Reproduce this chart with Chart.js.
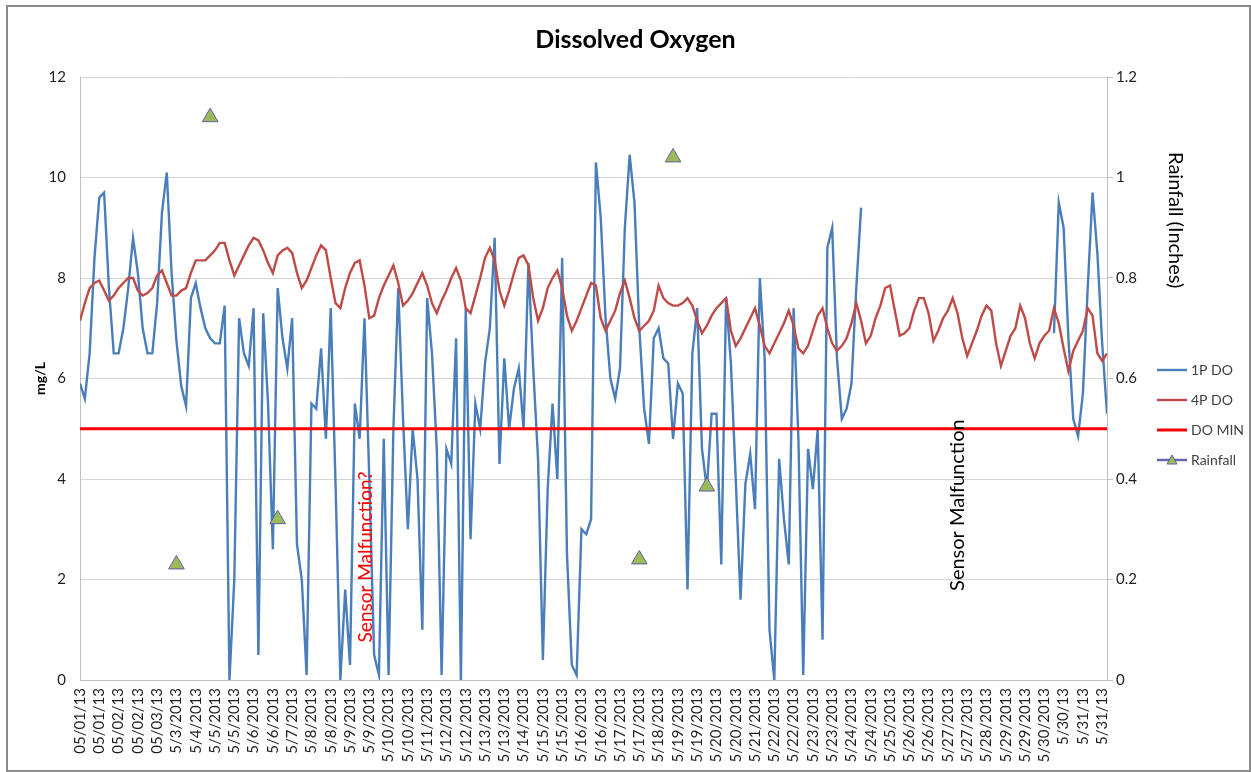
<!DOCTYPE html>
<html><head><meta charset="utf-8">
<script src="https://cdn.jsdelivr.net/npm/chart.js@4/dist/chart.umd.min.js"></script>
<style>html,body{margin:0;padding:0;background:#fff}#wrap{width:1251px;height:772px;position:relative}</style>
</head><body><div id="wrap"><canvas id="c"></canvas></div>
<script>
// ---------------- DATA ----------------
const tickLabels = ['05/01/13','05/01/13','05/02/13','05/02/13','05/03/13','5/3/2013','5/4/2013','5/5/2013','5/5/2013','5/6/2013',
  '5/6/2013','5/7/2013','5/8/2013','5/8/2013','5/9/2013','5/9/2013','5/10/2013','5/10/2013','5/11/2013','5/12/2013',
  '5/12/2013','5/13/2013','5/13/2013','5/14/2013','5/15/2013','5/15/2013','5/16/2013','5/16/2013','5/17/2013','5/17/2013',
  '5/18/2013','5/19/2013','5/19/2013','5/20/2013','5/20/2013','5/21/2013','5/22/2013','5/22/2013','5/23/2013','5/23/2013',
  '5/24/2013','5/24/2013','5/25/2013','5/26/2013','5/26/2013','5/27/2013','5/27/2013','5/28/2013','5/29/2013','5/29/2013',
  '5/30/2013','5/30/13','5/31/13','5/31/13'];
const samplesPerLabel = 4;   // readings between two category labels

const do1P = [
  5.9,5.6,6.5,8.4,9.6,9.7,7.8,6.5,6.5,7.0,
  7.8,8.8,8.1,7.0,6.5,6.5,7.5,9.3,10.1,8.1,
  6.75,5.85,5.45,7.6,7.9,7.4,7.0,6.8,6.7,6.7,
  7.45,0,2.0,7.2,6.5,6.25,7.4,0.5,7.3,5.5,
  2.6,7.8,6.8,6.2,7.2,2.7,2.0,0.1,5.5,5.4,
  6.6,4.8,7.4,3.9,0,1.8,0.3,5.5,4.8,7.2,
  4.0,0.5,0.1,4.8,0.1,5.0,7.8,5.2,3.0,5.0,
  4.0,1.0,7.6,6.5,4.6,0.1,4.6,4.3,6.8,0,
  7.4,2.8,5.5,5.0,6.3,7.0,8.8,4.3,6.4,5.0,
  5.8,6.2,5.0,8.3,6.2,4.4,0.4,3.8,5.5,4.0,
  8.4,2.5,0.3,0.1,3.0,2.9,3.2,10.3,9.2,7.2,
  6.0,5.6,6.2,9.0,10.45,9.5,7.0,5.4,4.7,6.8,
  7.0,6.4,6.3,4.8,5.9,5.7,1.8,6.5,7.4,4.6,
  3.8,5.3,5.3,2.3,7.6,6.3,4.0,1.6,3.9,4.5,
  3.4,8.0,6.4,1.0,0.0,4.4,3.2,2.3,7.4,4.8,
  0.1,4.6,3.8,5.0,0.8,8.6,9.0,6.4,5.2,5.4,
  5.9,7.8,9.4,null,null,null,null,null,null,null,
  null,null,null,null,null,null,null,null,null,null,
  null,null,null,null,null,null,null,null,null,null,
  null,null,null,null,null,null,null,null,null,null,
  null,null,6.9,9.5,9.0,6.8,5.2,4.85,5.7,7.8,
  9.7,8.5,6.7,5.3];

const do4P = [
  7.15,7.5,7.8,7.9,7.95,7.75,7.55,7.65,7.8,7.9,
  8.0,8.0,7.75,7.65,7.7,7.8,8.05,8.15,7.9,7.65,
  7.65,7.75,7.8,8.1,8.35,8.35,8.35,8.45,8.55,8.7,
  8.7,8.35,8.05,8.25,8.45,8.65,8.8,8.75,8.55,8.3,
  8.1,8.45,8.55,8.6,8.5,8.1,7.8,7.95,8.2,8.45,
  8.65,8.55,8.0,7.5,7.4,7.8,8.1,8.3,8.35,7.85,
  7.2,7.25,7.6,7.85,8.05,8.25,7.9,7.45,7.55,7.7,
  7.9,8.1,7.85,7.5,7.3,7.55,7.75,8.0,8.2,7.95,
  7.4,7.3,7.65,8.0,8.4,8.6,8.35,7.75,7.45,7.75,
  8.1,8.4,8.45,8.25,7.6,7.15,7.4,7.8,8.0,8.15,
  7.8,7.25,6.95,7.15,7.4,7.65,7.9,7.85,7.2,6.95,
  7.15,7.35,7.7,7.95,7.6,7.2,6.95,7.05,7.15,7.35,
  7.85,7.6,7.5,7.45,7.45,7.5,7.6,7.45,7.15,6.9,
  7.05,7.25,7.4,7.5,7.6,6.95,6.65,6.8,7.0,7.2,
  7.4,7.05,6.65,6.5,6.7,6.9,7.1,7.35,7.05,6.6,
  6.5,6.65,6.95,7.25,7.4,7.0,6.7,6.55,6.65,6.8,
  7.1,7.5,7.15,6.7,6.85,7.2,7.45,7.8,7.85,7.35,
  6.85,6.9,7.0,7.35,7.6,7.6,7.3,6.75,6.95,7.2,
  7.35,7.6,7.3,6.8,6.45,6.7,6.95,7.25,7.45,7.35,
  6.7,6.25,6.55,6.85,7.0,7.45,7.2,6.7,6.4,6.7,
  6.85,6.95,7.4,7.1,6.6,6.15,6.55,6.75,6.95,7.4,
  7.25,6.5,6.35,6.5];

const doMinLevel = 5;
const rainSample = [20, 27, 41, 116, 123, 130];
const rainInches = [0.23, 1.12, 0.32, 0.24, 1.04, 0.385];
const leftTicks = [0, 2, 4, 6, 8, 10, 12];
const rightTicks = [0, 0.2, 0.4, 0.6, 0.8, 1, 1.2];
const seriesNames = ['1P DO', '4P DO', 'DO MIN', 'Rainfall'];

// ---------------- BUILD ----------------
const N = do1P.length;
const sampleIdx = do1P.map((_, i) => i);
const doMin = sampleIdx.map(() => doMinLevel);
const rain = sampleIdx.map(() => null);
rainSample.forEach((s, k) => { rain[s] = rainInches[k]; });

const FONT = 'Lato, "Open Sans", "DejaVu Sans", sans-serif';
Chart.defaults.font.family = FONT;
Chart.defaults.color = '#404040';

const layout = { plotLeft: 80, plotRight: 1107, plotBottom: 680, padLeft: 20, padRight: 0, legendWidth: 107 };
const notes = [
  { text: 'Sensor Malfunction?', at: 59.3, level: 2.45, color: '#FF0000', size: 19 },
  { text: 'Sensor Malfunction', at: 182, level: 3.48, color: '#000000', size: 20 }
];

function legendIcon(ds) {
  const c = document.createElement('canvas');
  c.width = 30; c.height = 16;
  const g = c.getContext('2d');
  g.strokeStyle = ds.legendLine || ds.borderColor;
  g.lineWidth = ds.legendLine ? 2.5 : ds.borderWidth;
  g.beginPath(); g.moveTo(0, 8); g.lineTo(30, 8); g.stroke();
  if (ds.pointStyle === 'triangle') {
    g.fillStyle = ds.backgroundColor; g.strokeStyle = ds.borderColor; g.lineWidth = 1;
    g.beginPath(); g.moveTo(15, 3); g.lineTo(20, 12); g.lineTo(10, 12); g.closePath(); g.fill(); g.stroke();
  }
  return c;
}

const decor = {
  id: 'decor',
  beforeDraw(chart) {
    const ctx = chart.ctx; ctx.save(); ctx.fillStyle = '#fff'; ctx.fillRect(0, 0, chart.width, chart.height); ctx.restore();
  },
  afterDatasetsDraw(chart) {
    const { ctx, scales: { x, y, y1 } } = chart;
    notes.forEach(n => {
      ctx.save();
      ctx.translate(x.getPixelForValue(n.at), y.getPixelForValue(n.level));
      ctx.rotate(-Math.PI / 2);
      ctx.font = n.size + 'px ' + FONT; ctx.fillStyle = n.color;
      ctx.textAlign = 'center'; ctx.textBaseline = 'middle';
      ctx.fillText(n.text, 0, 0);
      ctx.restore();
    });
    ctx.save();
    ctx.translate(chart.chartArea.right + 68, y1.getPixelForValue(0.915));
    ctx.rotate(Math.PI / 2);
    ctx.font = '20px ' + FONT; ctx.fillStyle = '#000';
    ctx.textAlign = 'center'; ctx.textBaseline = 'middle';
    ctx.fillText('Rainfall (Inches)', 0, 0);
    ctx.restore();
  },
  afterDraw(chart) {
    const ctx = chart.ctx; ctx.save();
    ctx.strokeStyle = '#8C8C8C'; ctx.lineWidth = 2;
    ctx.strokeRect(7, 6, chart.width - 8, chart.height - 7);
    ctx.restore();
  }
};

new Chart(document.getElementById('c'), {
  type: 'line',
  data: {
    labels: sampleIdx,
    datasets: [
      { label: seriesNames[0], data: do1P, borderColor: '#4A7EBB', backgroundColor: '#4A7EBB', borderWidth: 2.4, pointRadius: 0, yAxisID: 'y', order: 3, spanGaps: false },
      { label: seriesNames[1], data: do4P, borderColor: '#BE4B48', backgroundColor: '#BE4B48', borderWidth: 2.4, pointRadius: 0, yAxisID: 'y', order: 2 },
      { label: seriesNames[2], data: doMin, borderColor: '#FF0000', backgroundColor: '#FF0000', borderWidth: 3, pointRadius: 0, yAxisID: 'y', order: 1 },
      { label: seriesNames[3], data: rain, showLine: false, pointStyle: 'triangle', pointRadius: 9, pointHoverRadius: 9,
        backgroundColor: '#9BBB59', borderColor: '#5F5FA6', legendLine: '#6464AE', borderWidth: 1, yAxisID: 'y1', order: 0 }
    ]
  },
  options: {
    responsive: true, maintainAspectRatio: false, animation: false,
    layout: { padding: { left: layout.padLeft, right: layout.padRight, top: 0, bottom: 0 } },
    plugins: {
      tooltip: { enabled: false },
      title: { display: true, text: 'Dissolved Oxygen', color: '#000', font: { size: 25, weight: 'bold' }, padding: { top: 25, bottom: 22 } },
      legend: {
        position: 'right', align: 'center', maxWidth: layout.legendWidth,
        title: { display: true, text: '', font: { size: 10 }, padding: { top: 0, bottom: 46 } },
        labels: {
          usePointStyle: true, pointStyleWidth: 24, padding: 16, color: '#404040', font: { size: 14 },
          generateLabels: (chart) => chart.data.datasets.map((ds, i) => ({
            text: ds.label, pointStyle: legendIcon(ds), fillStyle: 'rgba(0,0,0,0)', strokeStyle: 'rgba(0,0,0,0)',
            lineWidth: 0, hidden: false, datasetIndex: i, fontColor: '#404040'
          }))
        }
      }
    },
    scales: {
      x: {
        type: 'linear', min: 0, max: N - 1,
        afterBuildTicks: s => { s.ticks = tickLabels.map((_, k) => ({ value: k * samplesPerLabel })); },
        afterFit: s => { s.height = s.chart.height - layout.plotBottom; },
        grid: { display: false, drawTicks: false },
        border: { display: true, color: '#BFBFBF', width: 1 },
        ticks: { autoSkip: false, minRotation: 90, maxRotation: 90, padding: 8, color: '#1f1f1f', font: { size: 15 },
          callback: v => tickLabels[Math.round(v / samplesPerLabel)] }
      },
      y: {
        position: 'left', min: 0, max: 12,
        afterBuildTicks: s => { s.ticks = leftTicks.map(v => ({ value: v })); },
        afterFit: s => { s.width = layout.plotLeft - layout.padLeft; },
        grid: { color: '#D4D4D4', lineWidth: 1, drawTicks: false },
        border: { display: true, color: '#BFBFBF' },
        ticks: { padding: 14, color: '#1f1f1f', font: { size: 15 } },
        title: { display: true, text: 'mg/L', color: '#000', font: { size: 14, weight: 'bold' }, padding: { top: 12, bottom: 0 } }
      },
      y1: {
        position: 'right', min: 0, max: 1.2,
        afterBuildTicks: s => { s.ticks = rightTicks.map(v => ({ value: v })); },
        afterFit: s => { s.width = s.chart.width - layout.padRight - layout.legendWidth - layout.plotRight; },
        grid: { drawOnChartArea: false, color: '#BFBFBF', tickLength: 6 },
        border: { display: true, color: '#BFBFBF' },
        ticks: { padding: 3, color: '#1f1f1f', font: { size: 15 }, callback: v => String(+v.toFixed(1)) }
      }
    }
  },
  plugins: [decor]
});
</script></body></html>
